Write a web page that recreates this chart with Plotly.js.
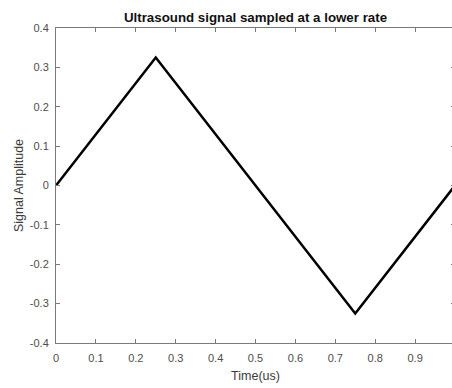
<!DOCTYPE html>
<html><head><meta charset="utf-8">
<script src="https://cdn.plot.ly/plotly-3.0.1.min.js"></script>
<style>html,body{margin:0;padding:0;overflow:hidden;background:#fff;width:452px;height:388px}</style>
</head><body><div id="chart"></div>
<script>
const timeUs = [0, 0.25, 0.5, 0.75, 1.0];
const amplitude = [0, 0.325, 0, -0.325, 0];
const xTickVals = [0, 0.1, 0.2, 0.3, 0.4, 0.5, 0.6, 0.7, 0.8, 0.9];
const xTickText = ["0", "0.1", "0.2", "0.3", "0.4", "0.5", "0.6", "0.7", "0.8", "0.9"];
const yTickVals = [-0.4, -0.3, -0.2, -0.1, 0, 0.1, 0.2, 0.3, 0.4];
const yTickText = ["-0.4", "-0.3", "-0.2", "-0.1", "0", "0.1", "0.2", "0.3", "0.4"];

const FONT = 'Liberation Sans, Arial, sans-serif';
const axisCommon = {
  showgrid: false, zeroline: false, showline: true, mirror: 'ticks',
  linecolor: '#7a7a7a', linewidth: 1, ticks: 'inside', ticklen: 4,
  tickcolor: '#7a7a7a', tickfont: {family: FONT, size: 11, color: '#4d4d4d'}
};
const layout = {
  width: 460, height: 388,
  margin: {l: 56, r: 5, t: 28, b: 45},
  paper_bgcolor: '#fff', plot_bgcolor: '#fff',
  showlegend: false,
  title: {text: '<b>Ultrasound signal sampled at a lower rate</b>', x: 0.5, xref: 'paper', y: 0.955, yref: 'container', yanchor: 'middle',
    font: {family: FONT, size: 13.3, color: '#111'}},
  xaxis: Object.assign({}, axisCommon, {range: [0, 1], tickvals: xTickVals, ticktext: xTickText, ticklabelstandoff: 5,
    title: {text: 'Time(us)', standoff: 8, font: {family: FONT, size: 12.5, color: '#3a3a3a'}}}),
  yaxis: Object.assign({}, axisCommon, {range: [-0.4, 0.4], tickvals: yTickVals, ticktext: yTickText, ticklabelstandoff: 4,
    title: {text: 'Signal Amplitude', standoff: 3, font: {family: FONT, size: 12.5, color: '#3a3a3a'}}})
};
Plotly.newPlot('chart', [{
  x: timeUs, y: amplitude, type: 'scatter', mode: 'lines',
  line: {color: '#000', width: 2.5}, cliponaxis: true
}], layout, {staticPlot: true, displayModeBar: false});
</script></body></html>
